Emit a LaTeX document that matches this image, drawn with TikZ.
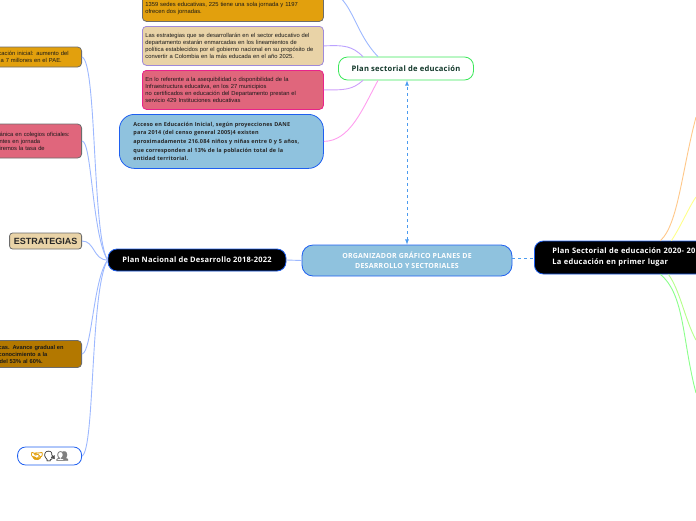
\documentclass[tikz,border=0pt]{standalone}
\usepackage{fontspec}
\setmainfont{Liberation Sans}
\newfontfamily\mapfont[LetterSpace=3]{Open Sans}
\newfontfamily\emojifont[FakeBold=3]{Noto Emoji}
\usepackage{tikz}
\definecolor{orangefill}{HTML}{E2A00D}
\definecolor{tanfill}{HTML}{E9D3A7}
\definecolor{rosefill}{HTML}{E0667C}
\definecolor{skyfill}{HTML}{8FC2DE}
\definecolor{brownfill}{HTML}{B37800}
\definecolor{linkblue}{HTML}{1E5FF0}
\definecolor{softblue}{HTML}{9DB8FF}
\definecolor{softviolet}{HTML}{BBA2FF}
\definecolor{softpink}{HTML}{FF9DEE}
\definecolor{softorange}{HTML}{FFC88A}
\definecolor{softyellow}{HTML}{FFFF8A}
\definecolor{softlime}{HTML}{B4FF8A}
\definecolor{softgreen}{HTML}{8AFF8A}
\definecolor{greenrim}{HTML}{3CE85A}
\definecolor{darkgreen}{HTML}{12382A}
\definecolor{dashblue}{HTML}{4C9BEF}
\tikzset{
	notebox/.style={draw=gray!85!black, line width=0.8pt, rounded corners=4pt, text=black!90, align=left,
		font=\fontsize{5.8}{7}\selectfont, inner sep=0pt, minimum height=#1},
	sidebox/.style={notebox=#1, anchor=east, text width=92pt, minimum width=102pt, inner xsep=5pt},
	topbox/.style={notebox=#1, anchor=north west, text width=175pt, minimum width=181pt, inner xsep=3pt},
	blackbox/.style={draw=linkblue, fill=black, text=white, line width=0.8pt, rounded corners=9pt, align=left,
		font=\mapfont\bfseries\fontsize{7.5}{11}\selectfont, inner sep=0pt},
	branch/.style={softblue, line width=0.9pt},
}
\begin{document}
\begin{tikzpicture}[x=1pt,y=-1pt]
	\useasboundingbox (0,0) rectangle (696,520);

	\node[topbox=61pt, fill=orangefill] (jornadas) at (142,-40) {\\[32pt]1359 sedes educativas, 225 tiene una sola jornada y 1197\\ofrecen dos jornadas.};
	\node[topbox=39pt, fill=tanfill, draw=softviolet!85!black] (lineamientos) at (142,26) {Las estrategias que se desarrollarán en el sector educativo del\\departamento estarán enmarcadas en los lineamientos de\\política establecidos por el gobierno nacional en su propósito de\\convertir a Colombia en la más educada en el año 2025.};
	\node[topbox=39pt, fill=rosefill, draw=magenta!75!rosefill] (asequibilidad) at (142,70) {En lo referente a la asequibilidad o disponibilidad de la\\Infraestructura educativa, en los 27 municipios\\no certificados en educación del Departamento prestan el\\servicio 429 Instituciones educativas};
	\node[draw=linkblue, fill=skyfill, line width=0.8pt, rounded corners=15pt, anchor=north west, minimum width=204pt, minimum height=54pt,
		text width=176pt, align=left, font=\mapfont\bfseries\fontsize{5.5}{8.6}\selectfont, text=black!85] (inicial) at (119,114) {Acceso en Educación Inicial, según proyecciones DANE\\para 2014 (del censo general 2005)4 existen\\aproximadamente 216.084 niños y niñas entre 0 y 5 años,\\que corresponden al 13\% de la población total de la\\entidad territorial.};
	\node[draw=greenrim, fill=white, line width=0.8pt, rounded corners=9pt, minimum width=135pt, minimum height=23pt, inner sep=0pt,
		font=\mapfont\bfseries\fontsize{7.6}{8}\selectfont, text=darkgreen] (sectorial) at (406,68.5) {Plan sectorial de educación};

	\node[sidebox=20pt, fill=orangefill] (pae) at (82,57) {\hspace*{14pt}cación inicial: aumento del\\\hspace*{16pt}a 7 millones en el PAE.};
	\node[sidebox=34pt, fill=rosefill] (basica) at (82,141) {\hspace*{15pt}ánica en colegios oficiales:\\\hspace*{15pt}ntes en jornada\\\hspace*{15pt}iremos la tasa de};
	\node[draw=gray!85!black, fill=tanfill, line width=0.8pt, rounded corners=3pt, minimum width=72pt, minimum height=16pt, inner sep=0pt, anchor=east,
		font=\bfseries\fontsize{9}{10}\selectfont, text=black!85] (estrategias) at (82,241) {ESTRATEGIAS};
	\node[sidebox=27pt, fill=brownfill, font=\bfseries\fontsize{5.7}{7}\selectfont] (avance) at (82,354) {\hspace*{14pt}cas. Avance gradual en\\\hspace*{14pt}conocimiento a la\\\hspace*{15pt}del 53\% al 60\%.};
	\node[draw=linkblue, fill=white, line width=0.8pt, rounded corners=8pt, minimum width=64pt, minimum height=18pt, inner sep=0pt, anchor=east,
		font=\emojifont\fontsize{10}{10}\selectfont] (gestos) at (82,456) {\textcolor{orangefill}{🤝}\textcolor{black!70}{🗣}\textcolor{black!50}{👥}};

	\node[blackbox, minimum width=178pt, minimum height=22pt, align=center] (nacional) at (197,260) {Plan Nacional de Desarrollo 2018-2022};
	\node[draw=linkblue, fill=skyfill, line width=0.8pt, rounded corners=11pt, minimum width=210pt, minimum height=31pt, inner sep=0pt, align=center,
		font=\mapfont\bfseries\fontsize{7}{9.6}\selectfont, text=white] (organizador) at (407,260.5) {ORGANIZADOR GRÁFICO PLANES DE\\DESARROLLO Y SECTORIALES};
	\node[blackbox, minimum width=252pt, minimum height=33pt, anchor=west, text width=216pt, inner xsep=18pt] (educacion) at (534,257.5) {Plan Sectorial de educación 2020- 20\\La educación en primer lugar};

	\coordinate (orangeend) at (696,117);
	\coordinate (yellowend) at (696,197);
	\coordinate (limeend) at (696,340);
	\coordinate (greenend) at (696,393);

	\draw[branch] (pae.east) .. controls (97,62) and (92,235) .. (nacional.west);
	\draw[branch] (basica.east) .. controls (92,141) and (92,235) .. (nacional.west);
	\draw[branch] (estrategias.east) .. controls (95,241) and (93,260) .. (nacional.west);
	\draw[branch] (avance.east) .. controls (92,352) and (93,280) .. (nacional.west);
	\draw[branch] (gestos.east) .. controls (95,450) and (90,290) .. (nacional.west);
	\draw[branch] (nacional.east) -- (organizador.west);

	\draw[branch] (jornadas.east) .. controls (352,-8) and (352,30) .. ([xshift=-28pt]sectorial.north);
	\draw[softviolet, line width=0.9pt] (lineamientos.east) .. controls (345,45) and (352,46) .. ([xshift=-43pt]sectorial.north);
	\draw[softviolet!70!softpink, line width=0.9pt] (asequibilidad.east) .. controls (345,90) and (352,90) .. ([xshift=-43pt]sectorial.south);
	\draw[softpink, line width=0.9pt] (inicial.east) .. controls (350,141) and (362,110) .. ([xshift=-28pt]sectorial.south);

	\draw[dashblue, dashed, line width=0.8pt, latex-latex] (organizador.north) -- (organizador.north |- sectorial.south);
	\draw[dashblue, dashed, line width=0.8pt] ([yshift=2pt]organizador.east) -- ([yshift=-1pt]educacion.west);

	\draw[softorange, line width=0.9pt] (educacion.north) .. controls (678,225) and (682,170) .. (orangeend);
	\draw[softyellow, line width=0.9pt] ([xshift=11pt]educacion.north) .. controls (680,228) and (690,205) .. (yellowend);
	\draw[softlime, line width=0.9pt] ([xshift=8pt]educacion.south) .. controls (680,290) and (685,320) .. (limeend);
	\draw[softgreen, line width=0.9pt] (educacion.south) .. controls (685,295) and (682,340) .. (greenend);
\end{tikzpicture}
\end{document}
